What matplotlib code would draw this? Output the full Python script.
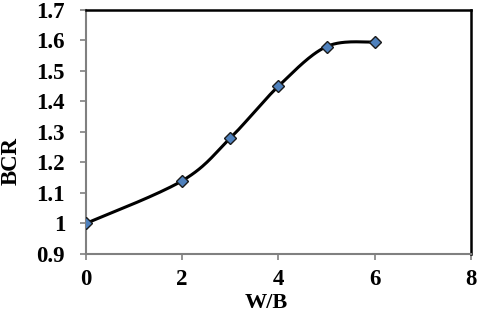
import numpy as np
import matplotlib.pyplot as plt

wb = [0, 2, 3, 4, 5, 6]
bcr = [1.0, 1.14, 1.28, 1.45, 1.58, 1.595]

plt.rcParams['font.family'] = ['Liberation Serif', 'DejaVu Serif']
plt.rcParams['font.weight'] = 'bold'


def smooth(xs, ys, n=30):
    # Excel-style smoothed line (Catmull-Rom as cubic Bezier)
    p = np.column_stack([xs, ys]).astype(float)
    p = np.vstack([p[0], p, p[-1]])
    out = []
    t = np.linspace(0, 1, n)[:, None]
    for i in range(1, len(p) - 2):
        b0, b3 = p[i], p[i + 1]
        b1 = b0 + (p[i + 1] - p[i - 1]) / 6
        b2 = b3 - (p[i + 2] - p[i]) / 6
        seg = (1 - t) ** 3 * b0 + 3 * (1 - t) ** 2 * t * b1 + 3 * (1 - t) * t ** 2 * b2 + t ** 3 * b3
        out.append(seg)
    c = np.vstack(out)
    return c[:, 0], c[:, 1]


fig = plt.figure(figsize=(4.8, 3.12), dpi=100)
ax = fig.add_axes([0.179, 0.186, 0.802, 0.782])

sx, sy = smooth(wb, bcr)
ax.plot(sx, sy, color='black', lw=2.2, zorder=2)
ax.plot(wb, bcr, ls='none', marker='D', ms=6.5, mfc='#4F81BD', mec='#1a1a1a', mew=1.0, zorder=3)

ax.set_xlim(0, 8)
ax.set_ylim(0.9, 1.7)
ax.set_xticks([0, 2, 4, 6, 8])
ax.set_yticks([0.9, 1.0, 1.1, 1.2, 1.3, 1.4, 1.5, 1.6, 1.7])
ax.set_yticklabels(['0.9', '1', '1.1', '1.2', '1.3', '1.4', '1.5', '1.6', '1.7'])
ax.tick_params(direction='out', length=4, width=1.2, color='#808080', labelsize=16.5)
ax.tick_params(axis='y', pad=11)
ax.tick_params(axis='x', pad=7)

for s in ['left', 'bottom']:
    ax.spines[s].set_color('#808080')
    ax.spines[s].set_linewidth(1.5)
for s in ['top', 'right']:
    ax.spines[s].set_color('black')
    ax.spines[s].set_linewidth(1.8)

ax.set_xlabel('W/B', fontsize=16, fontweight='bold')
ax.set_ylabel('BCR', fontsize=16.5, fontweight='bold')
ax.xaxis.set_label_coords(0.468, -0.16)
ax.yaxis.set_label_coords(-0.168, 0.38)

fig.savefig('out.png', dpi=100)
